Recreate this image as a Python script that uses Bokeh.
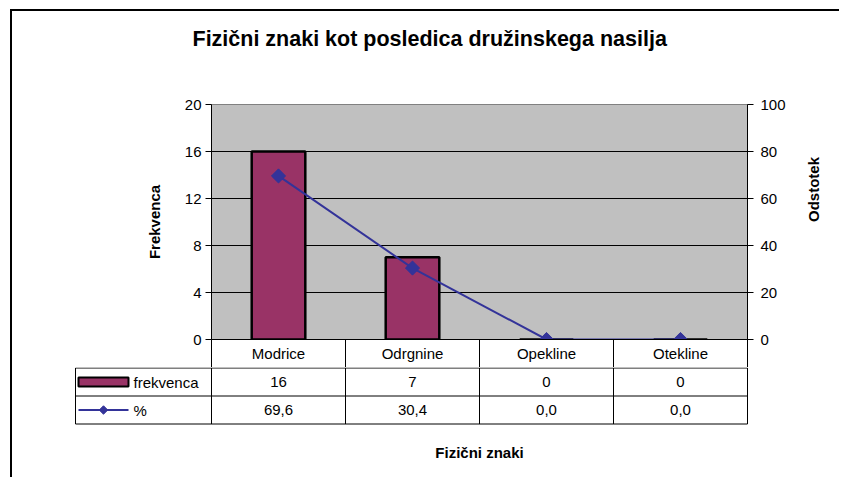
import math
from bokeh.plotting import figure
from bokeh.models import Range1d, LinearAxis, FixedTicker, Title
from bokeh.layouts import column
from bokeh.core.properties import value
from bokeh.embed import file_html
from bokeh.resources import INLINE

# ---- data ----
categories = ["Modrice", "Odrgnine", "Opekline", "Otekline"]
frekvenca = [16, 7, 0, 0]
odstotek = [69.6, 30.4, 0.0, 0.0]
freq_ticks = [0, 4, 8, 12, 16, 20]
pct_ticks = [0, 20, 40, 60, 80, 100]
series_names = ["frekvenca", "%"]
title_text = "Fizični znaki kot posledica družinskega nasilja"
y_label = "Frekvenca"
y2_label = "Odstotek"
x_label = "Fizični znaki"

# ---- style ----
FONT = "Liberation Sans"
BAR = "#993366"
LINE = "#333399"
PLOT_BG = "#C0C0C0"
W = 829
ROW = 28                 # px per table row
CAT_PX = 134             # px per category
LEG_PX = 138             # px of the legend column (incl. margin)
T_H = 112                # px of the lower table figure

n = len(categories)
xc = [i + 0.5 for i in range(n)]

p = figure(width=W, height=356, x_range=Range1d(0, n),
           y_range=Range1d(freq_ticks[0], freq_ticks[-1]),
           output_backend="svg", toolbar_location=None,
           min_border_left=199, min_border_right=94, min_border_top=93,
           min_border_bottom=ROW, title=title_text)
p.frame_align = False
p.extra_y_ranges = {"pct": Range1d(pct_ticks[0], pct_ticks[-1])}
p.background_fill_color = PLOT_BG
p.border_fill_color = "white"
p.outline_line_color = "#808080"
p.xgrid.visible = False
p.ygrid.ticker = FixedTicker(ticks=freq_ticks[1:-1])
p.ygrid.grid_line_color = "black"
p.ygrid.grid_line_width = 1

# empty spacer between the title and the plot area
p.add_layout(Title(text=" ", text_font_size="1px", standoff=46), "above")

p.title.align = "left"
p.title.offset = -19
p.title.standoff = 10
p.title.text_font = FONT
p.title.text_font_size = "21.5px"
p.title.text_font_style = "bold"
p.title.text_color = "black"


def style_axis(ax):
    ax.axis_line_color = "black"
    ax.axis_line_width = 1
    ax.major_tick_line_color = "black"
    ax.major_tick_out = 6
    ax.major_tick_in = 0
    ax.minor_tick_line_color = None
    ax.major_label_text_font = FONT
    ax.major_label_text_font_size = "15px"
    ax.major_label_text_color = "black"
    ax.major_label_standoff = 4
    ax.axis_label_text_font = FONT
    ax.axis_label_text_font_size = "15px"
    ax.axis_label_text_font_style = "bold"
    ax.axis_label_text_color = "black"


ax = p.yaxis[0]
ax.ticker = FixedTicker(ticks=freq_ticks)
ax.axis_label = y_label
style_axis(ax)
ax.axis_label_standoff = 19

ax2 = LinearAxis(y_range_name="pct", ticker=FixedTicker(ticks=pct_ticks), axis_label=y2_label)
style_axis(ax2)
ax2.major_label_standoff = 7
ax2.axis_label_standoff = 25
ax2.axis_label_orientation = math.pi / 2
p.add_layout(ax2, "right")

# category axis = header row of the data table
xa = p.xaxis[0]
xa.ticker = FixedTicker(ticks=xc, minor_ticks=list(range(n + 1)))
xa.major_label_overrides = {v: c for v, c in zip(xc, categories)}
xa.axis_line_color = "black"
xa.major_tick_line_color = None
xa.major_tick_out = 0
xa.major_tick_in = 0
xa.minor_tick_line_color = "black"
xa.minor_tick_out = ROW
xa.minor_tick_in = 0
xa.major_label_standoff = -23
xa.major_label_text_font = FONT
xa.major_label_text_font_size = "15px"
xa.major_label_text_color = "black"

p.vbar(x=xc, top=frekvenca, width=0.4, fill_color=BAR,
       line_color="black", line_width=2.5)
p.line(x=xc, y=odstotek, y_range_name="pct", line_color=LINE, line_width=2)
p.scatter(x=xc, y=odstotek, y_range_name="pct", marker="square", size=10,
          angle=math.pi / 4, fill_color=LINE, line_color=LINE)

# ---- data table rows below ----
x0 = -LEG_PX / CAT_PX
x1 = n + 2 / CAT_PX
y_top = -1 + 0.5 / ROW
p2 = figure(width=W, height=T_H, x_range=Range1d(x0, x1),
            y_range=Range1d(y_top - T_H / ROW, y_top),
            output_backend="svg", toolbar_location=None,
            x_axis_location=None, y_axis_location=None,
            min_border_left=61, min_border_right=92, min_border_top=0,
            min_border_bottom=0)
p2.frame_align = False
p2.outline_line_color = None
p2.background_fill_color = "white"
p2.border_fill_color = "white"
p2.grid.visible = False

leg_left = x0 + 2 / CAT_PX
hy = [-1, -2, -3]
p2.segment(x0=[leg_left] * 3, y0=hy, x1=[n] * 3, y1=hy, line_color="black", line_width=1)
vx = list(range(n + 1)) + [leg_left]
p2.segment(x0=vx, y0=[-1] * len(vx), x1=vx, y1=[-3] * len(vx),
           line_color="black", line_width=1)

txt = dict(text_font=value(FONT), text_font_size="15px", text_color="black",
           text_align="center", text_baseline="middle")
p2.text(x=xc, y=[-1.5] * n, text=[str(v) for v in frekvenca], **txt)
p2.text(x=xc, y=[-2.5] * n,
        text=[f"{v:.1f}".replace(".", ",") for v in odstotek], **txt)

# legend keys
kx0 = leg_left + 3 / CAT_PX
kx1 = kx0 + 50 / CAT_PX
kh = 4.5 / ROW
p2.quad(left=[kx0], right=[kx1], top=[-1.5 + kh], bottom=[-1.5 - kh],
        fill_color=BAR, line_color="black", line_width=2)
p2.segment(x0=[kx0], y0=[-2.5], x1=[kx1], y1=[-2.5], line_color=LINE, line_width=2)
p2.scatter(x=[(kx0 + kx1) / 2], y=[-2.5], marker="square", size=6,
           angle=math.pi / 4, fill_color=LINE, line_color=LINE)
p2.text(x=[kx1 + 5 / CAT_PX] * 2, y=[-1.5, -2.5], text=series_names,
        text_font=value(FONT), text_font_size="15px", text_color="black",
        text_align="left", text_baseline="middle")

# axis title of the category axis
p2.text(x=[n / 2], y=[-4], text=[x_label], text_font=value(FONT),
        text_font_size="15px", text_font_style="bold", text_color="black",
        text_align="center", text_baseline="middle")

layout = column(p, p2, spacing=0, margin=(11, 0, 0, 12),
                styles={"box-shadow": "-2px -2px 0 0 #000000"})

open("out.html", "w").write(file_html(layout, INLINE))
